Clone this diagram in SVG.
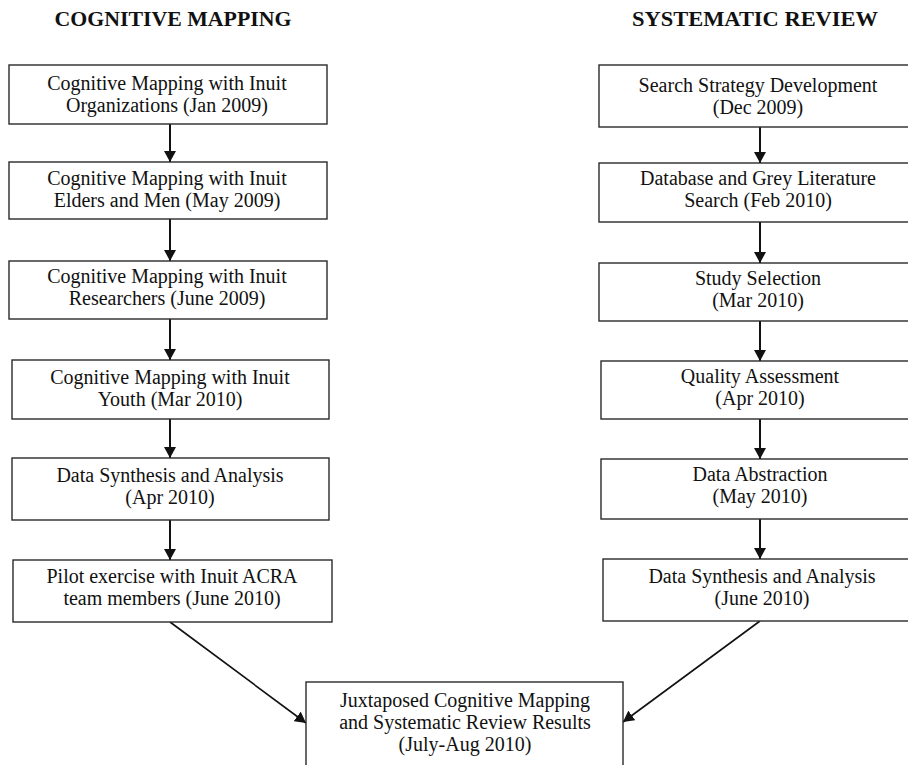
<svg xmlns="http://www.w3.org/2000/svg" width="908" height="765" viewBox="0 0 908 765">
<style>
.bg{fill:#fff}
.box{fill:#fff;stroke:#2a2a2a;stroke-width:1.4}
.t{font-family:"Liberation Serif","Times New Roman",serif;font-size:20px;fill:#111;text-anchor:middle}
.h{font-family:"Liberation Serif","Times New Roman",serif;font-size:20px;font-weight:bold;fill:#111;text-anchor:middle}
.c{stroke:#111;stroke-width:2;fill:none}
.d{stroke:#111;stroke-width:1.6;fill:none}
</style>
<defs>
<marker id="ah" markerUnits="userSpaceOnUse" markerWidth="12" markerHeight="12" refX="11" refY="6" orient="auto">
<path d="M0,0 L11,6 L0,12 z" fill="#111"/>
</marker>
</defs>
<rect class="bg" x="0" y="0" width="908" height="765"/>
<text class="h" x="173" y="26" textLength="237" lengthAdjust="spacingAndGlyphs">COGNITIVE MAPPING</text>
<text class="h" x="755" y="26" textLength="246" lengthAdjust="spacingAndGlyphs">SYSTEMATIC REVIEW</text>

<g id="connectors">
<line class="c" x1="170" y1="124" x2="170" y2="162" marker-end="url(#ah)"/>
<line class="c" x1="170" y1="219" x2="170" y2="261" marker-end="url(#ah)"/>
<line class="c" x1="170" y1="319" x2="170" y2="360" marker-end="url(#ah)"/>
<line class="c" x1="170" y1="419" x2="170" y2="458" marker-end="url(#ah)"/>
<line class="c" x1="170" y1="520" x2="170" y2="560" marker-end="url(#ah)"/>
<line class="d" x1="170" y1="622" x2="306" y2="723" marker-end="url(#ah)"/>
<line class="c" x1="760" y1="127" x2="760" y2="163" marker-end="url(#ah)"/>
<line class="c" x1="760" y1="222" x2="760" y2="263" marker-end="url(#ah)"/>
<line class="c" x1="760" y1="321" x2="760" y2="361" marker-end="url(#ah)"/>
<line class="c" x1="760" y1="419" x2="760" y2="459" marker-end="url(#ah)"/>
<line class="c" x1="760" y1="519" x2="760" y2="559" marker-end="url(#ah)"/>
<line class="d" x1="760" y1="621" x2="623" y2="722" marker-end="url(#ah)"/>
</g>

<g id="cm1"><rect class="box" x="9" y="65" width="318" height="59"/>
<text class="t" x="167" y="90">Cognitive Mapping with Inuit</text>
<text class="t" x="167" y="112">Organizations (Jan 2009)</text></g>
<g id="cm2"><rect class="box" x="9" y="162" width="318" height="57"/>
<text class="t" x="167" y="185">Cognitive Mapping with Inuit</text>
<text class="t" x="167" y="207">Elders and Men (May 2009)</text></g>
<g id="cm3"><rect class="box" x="9" y="261" width="318" height="58"/>
<text class="t" x="167" y="283">Cognitive Mapping with Inuit</text>
<text class="t" x="167" y="305">Researchers (June 2009)</text></g>
<g id="cm4"><rect class="box" x="12" y="360" width="317" height="59"/>
<text class="t" x="170" y="384">Cognitive Mapping with Inuit</text>
<text class="t" x="170" y="406">Youth (Mar 2010)</text></g>
<g id="cm5"><rect class="box" x="12" y="458" width="317" height="62"/>
<text class="t" x="170" y="482">Data Synthesis and Analysis</text>
<text class="t" x="170" y="504">(Apr 2010)</text></g>
<g id="cm6"><rect class="box" x="13" y="560" width="319" height="62"/>
<text class="t" x="172" y="583">Pilot exercise with Inuit ACRA</text>
<text class="t" x="172" y="605">team members (June 2010)</text></g>

<g id="sr1"><rect class="box" x="599" y="65" width="322" height="62"/>
<text class="t" x="758" y="92">Search Strategy Development</text>
<text class="t" x="758" y="114">(Dec 2009)</text></g>
<g id="sr2"><rect class="box" x="599" y="163" width="322" height="59"/>
<text class="t" x="758" y="185">Database and Grey Literature</text>
<text class="t" x="758" y="207">Search (Feb 2010)</text></g>
<g id="sr3"><rect class="box" x="599" y="263" width="322" height="58"/>
<text class="t" x="758" y="285">Study Selection</text>
<text class="t" x="758" y="307">(Mar 2010)</text></g>
<g id="sr4"><rect class="box" x="601" y="361" width="320" height="58"/>
<text class="t" x="760" y="383">Quality Assessment</text>
<text class="t" x="760" y="405">(Apr 2010)</text></g>
<g id="sr5"><rect class="box" x="601" y="459" width="320" height="60"/>
<text class="t" x="760" y="481">Data Abstraction</text>
<text class="t" x="760" y="503">(May 2010)</text></g>
<g id="sr6"><rect class="box" x="603" y="559" width="318" height="62"/>
<text class="t" x="762" y="583">Data Synthesis and Analysis</text>
<text class="t" x="762" y="605">(June 2010)</text></g>

<g id="result"><rect class="box" x="306" y="682" width="317" height="100"/>
<text class="t" x="465" y="707">Juxtaposed Cognitive Mapping</text>
<text class="t" x="465" y="729">and Systematic Review Results</text>
<text class="t" x="465" y="751">(July-Aug 2010)</text></g>
</svg>
